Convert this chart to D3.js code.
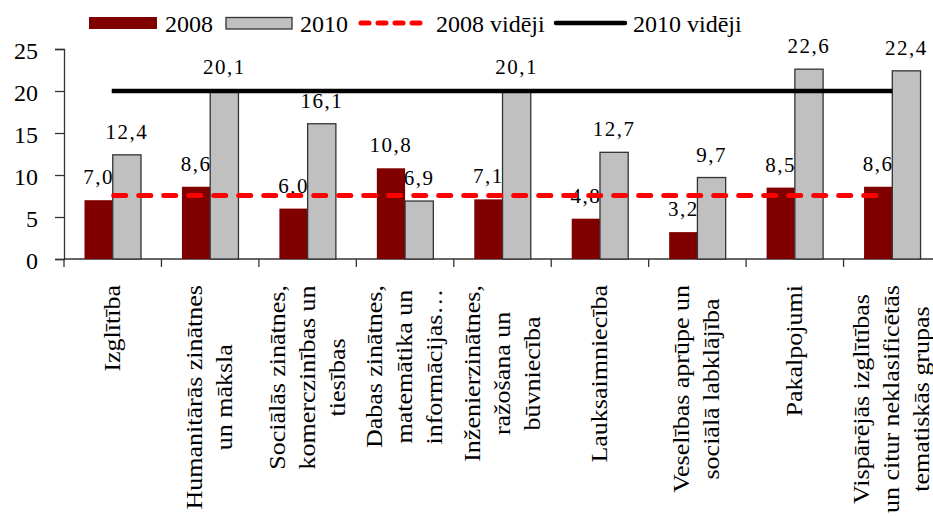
<!DOCTYPE html>
<html>
<head>
<meta charset="utf-8">
<script src="https://cdn.jsdelivr.net/npm/d3@7"></script>
<style>
  body { margin: 0; background: #fff; }
</style>
</head>
<body>
<svg id="chart" width="933" height="516"></svg>
<script>
// category labels, already split into lines as in the original
var categories = [
  ["Izglītība"],
  ["Humanitārās zinātnes", "un māksla"],
  ["Sociālās zinātnes,", "komerczinības un", "tiesības"],
  ["Dabas zinātnes,", "matemātika un", "informācijas…"],
  ["Inženierzinātnes,", "ražošana un", "būvniecība"],
  ["Lauksaimniecība"],
  ["Veselības aprūpe un", "sociālā labklājība"],
  ["Pakalpojumi"],
  ["Vispārējās izglītības", "un citur neklasificētās", "tematiskās grupas"]
];
var series = ["2008", "2010"];
var values2008 = [7.0, 8.6, 6.0, 10.8, 7.1, 4.8, 3.2, 8.5, 8.6];
var values2010 = [12.4, 20.1, 16.1, 6.9, 20.1, 12.7, 9.7, 22.6, 22.4];
var avg2008 = 7.55;
var avg2010 = 20.0;
var yTicks = [0, 5, 10, 15, 20, 25];
var legendNames = ["2008", "2010", "2008 vidēji", "2010 vidēji"];

var FONT = "Liberation Serif, DejaVu Serif, Times New Roman, serif";
var svg = d3.select("#chart");
var colors = { "2008": "#800000", "2010": "#c0c0c0" };
var fmt = function(v) { return d3.format(".1f")(v).replace(".", ","); };

var x = d3.scaleBand().domain(d3.range(categories.length)).range([64, 941]);
var x1 = d3.scaleBand().domain(series).range([20.5, 77]);
var y = d3.scaleLinear().domain([0, 25]).range([259, 49]);

// y axis
var yAxis = svg.append("g")
    .attr("transform", "translate(64,0)")
    .call(d3.axisLeft(y).tickValues(yTicks).tickSize(9).tickPadding(17).tickFormat(d3.format("d")));
yAxis.attr("font-family", FONT);
yAxis.select(".domain").attr("stroke", "#333").attr("stroke-width", 1.3);
yAxis.selectAll(".tick line").attr("stroke", "#333").attr("stroke-width", 1.3);
yAxis.selectAll("text").attr("font-size", 24).attr("fill", "#000").attr("dy", "0.38em")
    .style("font-family", FONT);

// x axis with boundary ticks
var xg = svg.append("g");
xg.append("line").attr("x1", 64).attr("x2", 941).attr("y1", 259).attr("y2", 259)
    .attr("stroke", "#333").attr("stroke-width", 1.3);
xg.selectAll("line.tk").data(d3.range(categories.length + 1)).join("line")
    .attr("class", "tk")
    .attr("x1", function(d) { return 64 + d * x.bandwidth(); })
    .attr("x2", function(d) { return 64 + d * x.bandwidth(); })
    .attr("y1", 259).attr("y2", 267)
    .attr("stroke", "#333").attr("stroke-width", 1.3);

// bars
var rows = categories.map(function(c, i) {
  return { i: i, vals: [{ s: "2008", v: values2008[i] }, { s: "2010", v: values2010[i] }] };
});
var groups = svg.append("g").selectAll("g").data(rows).join("g")
    .attr("transform", function(d) { return "translate(" + x(d.i) + ",0)"; });
groups.selectAll("rect").data(function(d) { return d.vals; }).join("rect")
    .attr("x", function(d) { return x1(d.s); })
    .attr("width", x1.bandwidth())
    .attr("y", function(d) { return y(d.v); })
    .attr("height", function(d) { return y(0) - y(d.v); })
    .attr("fill", function(d) { return colors[d.s]; })
    .attr("stroke", function(d) { return d.s == "2010" ? "#333" : "none"; })
    .attr("stroke-width", 1.3);

// average lines
var firstC = x(0) + x.bandwidth() / 2, lastC = x(categories.length - 1) + x.bandwidth() / 2;
svg.append("line").attr("x1", firstC - 1).attr("x2", lastC)
    .attr("y1", y(avg2010)).attr("y2", y(avg2010))
    .attr("stroke", "#000").attr("stroke-width", 4.5);
svg.append("line").attr("x1", firstC + 1).attr("x2", lastC - 12)
    .attr("y1", y(avg2008)).attr("y2", y(avg2008))
    .attr("stroke", "#ff0000").attr("stroke-width", 5)
    .attr("stroke-linecap", "round").attr("stroke-dasharray", "12,13");

// value labels
groups.selectAll("text").data(function(d) { return d.vals; }).join("text")
    .attr("x", function(d) { return x1(d.s) + x1.bandwidth() / 2; })
    .attr("y", function(d) { return y(d.v) - 16; })
    .attr("text-anchor", "middle")
    .style("font-family", FONT)
    .attr("font-size", 21)
    .attr("letter-spacing", 1.5)
    .text(function(d) { return fmt(d.v); });

// category labels (rotated, lines centred, block top at y=285)
categories.forEach(function(lines, i) {
  var g = svg.append("g").attr("transform", "translate(" + (x(i) + x.bandwidth() / 2) + ",0)");
  var texts = g.selectAll("text").data(lines).join("text")
      .attr("text-anchor", "middle")
      .style("font-family", FONT)
      .attr("font-size", 26)
      .text(function(d) { return d; });
  var maxLen = d3.max(texts.nodes(), function(n) { return n.getComputedTextLength(); });
  var yc = 285 + maxLen / 2;
  texts.attr("transform", function(d, j) {
      return "translate(" + ((j - (lines.length - 1) / 2) * 30) + "," + yc + ") rotate(-90) scale(1,0.85)";
    })
    .attr("dy", "0.32em");
});

// legend
var lg = svg.append("g");
lg.append("rect").attr("x", 89).attr("y", 17).attr("width", 68).attr("height", 12).attr("fill", colors["2008"]);
lg.append("rect").attr("x", 226).attr("y", 17.5).attr("width", 66).attr("height", 11.5)
    .attr("fill", colors["2010"]).attr("stroke", "#333").attr("stroke-width", 1.3);
lg.append("line").attr("x1", 361).attr("x2", 428).attr("y1", 23).attr("y2", 23)
    .attr("stroke", "#ff0000").attr("stroke-width", 5)
    .attr("stroke-linecap", "round").attr("stroke-dasharray", "8,9");
lg.append("line").attr("x1", 556).attr("x2", 625).attr("y1", 23).attr("y2", 23)
    .attr("stroke", "#000").attr("stroke-width", 4.5).attr("stroke-linecap", "round");
var legendX = [165, 300, 436, 633];
lg.selectAll("text").data(legendNames).join("text")
    .attr("x", function(d, i) { return legendX[i]; })
    .attr("y", 31.5)
    .style("font-family", FONT)
    .attr("font-size", 24)
    .text(function(d) { return d; });
</script>
</body>
</html>
